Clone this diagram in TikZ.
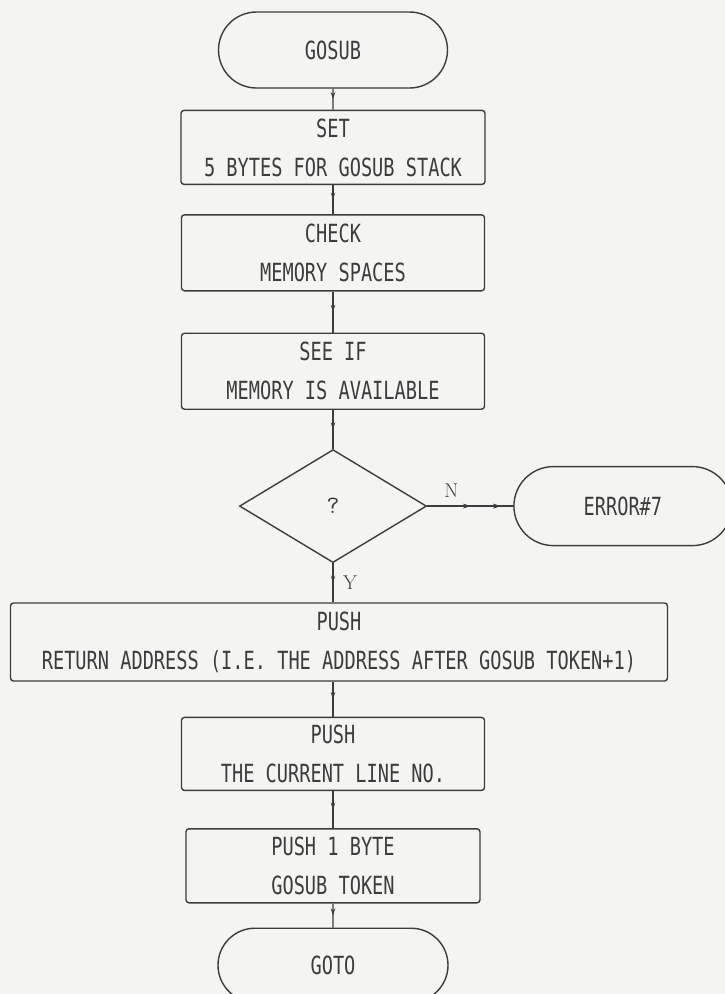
\documentclass[tikz,border=0pt]{standalone}
\usepackage{fontspec}
\usetikzlibrary{arrows.meta, positioning, shapes.geometric, shapes.misc, decorations.markings}
\newfontfamily\plotfont[FakeStretch=0.745]{DejaVu Sans Mono}
\definecolor{ink}{HTML}{3C3C3C}
\definecolor{paper}{HTML}{F4F4F2}

\begin{document}
\begin{tikzpicture}[
  x=1pt, y=-1pt,
  font={\plotfont\fontsize{25}{39}\selectfont},
  midarrow/.style={postaction={decorate}, decoration={markings,
      mark=at position #1 with {\arrow{Stealth[length=7pt, width=4.5pt]}}}},
  midarrow/.default=0.5,
  box/.style={draw=ink, text=ink, line width=1.4pt, rounded corners=3pt,
              align=center, inner sep=0pt, minimum width=303pt, minimum height=75pt},
  term/.style={rounded rectangle, draw=ink, text=ink, line width=1.4pt,
               inner sep=0pt, minimum width=229pt, minimum height=76pt},
  test/.style={diamond, draw=ink, text=ink, line width=1.4pt, inner sep=0pt,
               shape aspect=1.65, minimum width=187pt, minimum height=113pt,
               font={\ttfamily\fontsize{25}{28}\selectfont}},
  flow/.style={draw=ink, line width=1.4pt, midarrow},
  yn/.style={text=ink, font={\rmfamily\fontsize{20}{22}\selectfont}},
  ]
\fill[paper] (0,0) rectangle (725,994);
\useasboundingbox (0,0) rectangle (725,994);

\node[term] (gosub) at (333,50) {GOSUB};
\node[box, minimum width=304pt, minimum height=74pt, below=21pt of gosub] (setstack) {
  SET\\
  5 BYTES FOR GOSUB STACK
};
\node[box, minimum height=76pt, below=29pt of setstack] (check) {
  CHECK\\
  MEMORY SPACES
};
\node[box, minimum height=76pt, below=41pt of check] (seeif) {
  SEE IF\\
  MEMORY IS AVAILABLE
};
\node[test, below=39pt of seeif] (avail) {?};
\node[term, minimum width=218pt, minimum height=79pt, right=86pt of avail] (err) {ERROR\#7};
\node[box, minimum width=657pt, minimum height=78pt, below=39pt of avail, xshift=6pt] (retaddr) {
  PUSH\\
  RETURN ADDRESS (I.E. THE ADDRESS AFTER GOSUB TOKEN+1)
};
\node[box, minimum height=73pt, below=35pt of retaddr, xshift=-6pt] (lineno) {
  PUSH\\
  THE CURRENT LINE NO.
};
\node[box, minimum width=294pt, minimum height=74pt, below=37pt of lineno] (token) {
  PUSH 1 BYTE\\
  GOSUB TOKEN
};
\node[term, minimum width=230pt, minimum height=74pt, below=24pt of token] (goto) {GOTO};

\draw[flow] (gosub) -- (setstack);
\draw[flow] (setstack) -- (check);
\draw[flow] (check) -- (seeif);
\draw[flow] (seeif) -- (avail);
\draw[flow, midarrow=0.85] (avail) -- node[yn, pos=0.28, above=5pt] {N} (err);
\draw[flow] (avail.south) -- node[yn, right=6pt] {Y} (avail.south |- retaddr.north);
\draw[flow] (lineno.north |- retaddr.south) -- (lineno.north);
\draw[flow] (lineno) -- (token);
\draw[flow] (token) -- (goto);
\end{tikzpicture}
\end{document}
